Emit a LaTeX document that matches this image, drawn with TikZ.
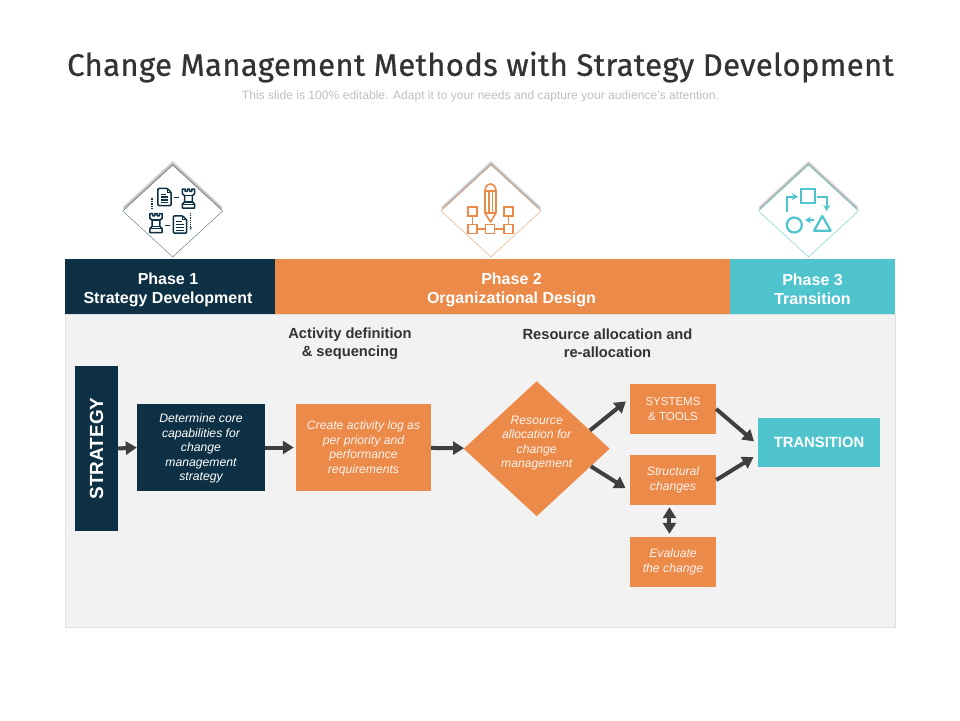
\documentclass[tikz,border=0pt]{standalone}
\usepackage{fontspec}
\setmainfont{Liberation Sans}
\newfontfamily\titlefont[LetterSpace=1.3,FakeBold=0.8]{Fira Sans}
\usepackage{tikz}
\usetikzlibrary{arrows.meta,shapes.geometric}
\definecolor{navy}{HTML}{0E3044}
\definecolor{orange1}{HTML}{EC8A49}
\definecolor{teal1}{HTML}{50C4CD}
\definecolor{panel}{HTML}{F2F2F2}
\definecolor{arrowgray}{HTML}{3F3F3F}
\definecolor{textgray}{HTML}{333333}
\newcommand{\fs}[2]{\fontsize{#1}{#2}\selectfont}
\newcommand{\headstrut}{\rule{0pt}{17.5pt}}
\tikzset{
  head/.style={minimum height=55pt,inner sep=0pt,text=white,align=center,font=\bfseries\fs{16}{19}},
  flowbox/.style={inner sep=0pt,text=white,align=center,font=\itshape\fs{12.2}{14.5}},
  orangebox/.style={flowbox,fill=orange1,text=white!90!orange1},
  sidehead/.style={align=center,text=textgray,font=\bfseries\fs{14.7}{18}},
  icondia/.style={diamond,aspect=1.09,minimum width=100pt,minimum height=92pt,inner sep=0pt,fill=white},
  iconshade/.style={diamond,aspect=1.09,minimum width=100pt,minimum height=92pt,inner sep=0pt,fill=black,opacity=.09},
  step arrow/.style={arrowgray,line width=4pt,-{Triangle[length=11pt,width=13pt]}},
  both arrow/.style={arrowgray,line width=4pt,{Triangle[length=11pt,width=13pt]}-{Triangle[length=11pt,width=13pt]}},
  rook/.pic={
    \draw[line width=1.5pt,line join=round] (-6.5,-10) -- (-6.5,-5) -- (-4,-3) -- (-4,3.5) -- (-6.5,6) -- (-6.5,10) -- (6.5,10)
      -- (6.5,6) -- (4,3.5) -- (4,-3) -- (6.5,-5) -- (6.5,-10) -- (3.5,-10) -- (3.5,-7.5) -- (1.3,-7.5) -- (1.3,-10)
      -- (-1.3,-10) -- (-1.3,-7.5) -- (-3.5,-7.5) -- (-3.5,-10) -- cycle;
    \draw[line width=1.4pt] (-4,-3) -- (4,-3) (-4,3.5) -- (4,3.5) (-6.5,6) -- (6.5,6);
  },
  docum/.pic={
    \draw[line width=1.5pt,line join=round,rounded corners=1pt] (-7,-9) -- (3,-9) -- (7,-5) -- (7,9) -- (-7,9) -- cycle;
    \draw[line width=1.2pt] (3,-9) -- (3,-5) -- (7,-5);
    \draw[line width=1.3pt] (-4,-3) -- (2,-3) (-4,0) -- (4,0) (-4,3) -- (4,3) (-4,6) -- (4,6);
  }
}
\begin{document}
\begin{tikzpicture}[x=1pt,y=-1pt]
\useasboundingbox (0,0) rectangle (960,720);
% title
\node (title) at (480.5,67) {\titlefont\fs{31}{36}\color{textgray}Change Management Methods with Strategy Development};
\node[text=black!25,font=\fs{12.1}{14}] (subtitle) at (480.5,96) {This slide is 100\% editable. Adapt it to your needs and capture your audience's attention.};
% panel and header
\draw[fill=panel,draw=black!12] (65,314) rectangle (895,627.5);
\node[head,fill=navy,minimum width=210pt] (phasea) at (170,286.5) {\hspace*{-4pt}\headstrut Phase 1\\\hspace*{-4pt}Strategy Development};
\node[head,fill=orange1,minimum width=455pt] (phaseb) at (502.5,286.5) {\hspace*{18pt}\headstrut Phase 2\\\hspace*{18pt}Organizational Design};
\node[head,fill=teal1,minimum width=165pt] (phasec) at (812.5,286.5) {\headstrut Phase 3\\Transition};
\node[sidehead] (actdef) at (350,344) {Activity definition\\\& sequencing};
\node[sidehead] (resalloc) at (607.5,343.5) {Resource allocation and\\re-allocation};
% icons
\foreach \ix in {172.7,491,808.5}
  \foreach \sh in {.5,1.5,...,4.5}
    \node[iconshade] (shade) at (\ix,211-\sh) {};
\node[icondia,draw=navy!70] (icona) at (172.7,211) {};
\node[icondia,draw=orange1!80] (iconb) at (491,211) {};
\node[icondia,draw=teal1!85] (iconc) at (808.5,211) {};
\begin{scope}[navy]
\pic[scale=.95] at (164.5,197) {docum};
\pic[scale=.95] at (188.5,198.5) {rook};
\pic[scale=.95] at (156,223) {rook};
\pic[scale=.95] at (180,224.5) {docum};
\draw[line width=1.5pt] (174,197.7) -- (179,197.7) (165,225.7) -- (170,225.7);
\draw[line width=1.2pt,densely dotted,-{Stealth[length=3pt]}] (152,209) -- (152,197);
\draw[line width=1.2pt,densely dotted,-{Stealth[length=3pt]}] (190.7,213) -- (190.7,230);
\end{scope}
\begin{scope}[orange1,line width=1.6pt]
\draw[line join=round] (485,191) arc (180:360:5.5 and 7) -- (496,213) -- (490.5,222) -- (485,213) -- cycle;
\draw (485,191) -- (496,191) (485,213) -- (496,213) (489,191) -- (489,213) (492.5,191) -- (492.5,213);
\foreach \px/\py in {472.3/211.3,508.3/211.3,472.3/229,490/229,508.3/229}
  \draw (\px-4.5,\py-4.5) rectangle (\px+4.5,\py+4.5);
\draw (472.3,215.8) -- (472.3,224.5) (508.3,215.8) -- (508.3,224.5) (476.8,229) -- (485.5,229) (494.5,229) -- (503.8,229);
\end{scope}
\begin{scope}[teal1,line width=2.2pt]
\draw (801,189.3) rectangle (815,202.7);
\draw[-{Stealth[length=6pt,width=7pt]}] (787.3,211.7) -- (787.3,196.7) -- (798,196.7);
\draw[-{Stealth[length=6pt,width=7pt]}] (817.3,196.7) -- (826.7,196.7) -- (826.7,211);
\draw (794.3,225) circle (7.5pt);
\draw[line join=round] (822.3,216) -- (814,230.7) -- (830.7,230.7) -- cycle;
\draw[-{Stealth[length=6pt,width=7pt]}] (814,220) -- (805,220);
\end{scope}
% flow
\node[fill=navy,text=white,rotate=90,minimum width=165pt,minimum height=43pt,inner sep=0pt,font=\bfseries\fs{19}{20}] (strategy) at (96.5,448.5) {STRATEGY};
\node[flowbox,fill=navy,minimum width=128pt,minimum height=87pt] (capab) at (201,447.5) {\rule{0pt}{11pt}Determine core\\capabilities for\\change\\management\\strategy};
\node[orangebox,minimum width=135pt,minimum height=87pt] (actlog) at (363.5,447.5) {\rule{0pt}{11pt}Create activity log as\\per priority and\\performance\\requirements};
\node[orangebox,diamond,aspect=1.08,minimum width=146pt,minimum height=135pt] (resdia) at (536.7,448.7) {Resource\\allocation for\\change\\management\rule[-14pt]{0pt}{0pt}};
\node[orangebox,minimum width=86pt,minimum height=50pt,font=\fs{11.5}{14.5}] (systems) at (673,409) {SYSTEMS\\\& TOOLS};
\node[orangebox,minimum width=86pt,minimum height=50pt] (struct) at (673,480) {Structural\\changes};
\node[orangebox,minimum width=86pt,minimum height=50pt] (evalu) at (673,562) {Evaluate\\the change};
\node[fill=teal1,text=white,minimum width=122pt,minimum height=49pt,inner sep=0pt,font=\bfseries\fs{14.8}{16}] (trans) at (819,442.5) {TRANSITION};
% arrows
\draw[step arrow] (strategy.south) -- (capab.west);
\draw[step arrow,shorten >=2pt] (capab) -- (actlog);
\draw[step arrow] (actlog) -- (resdia);
\draw[step arrow,shorten >=5pt] (resdia.19) -- (systems.166);
\draw[step arrow,shorten >=5pt] (resdia.-18) -- (struct.194);
\draw[step arrow,shorten >=5pt] (systems.east) -- (trans.182);
\draw[step arrow,shorten >=5pt] (struct.east) -- (trans.191);
\draw[both arrow,shorten >=3pt,shorten <=2pt] (struct.-98) -- (evalu.98);
\end{tikzpicture}
\end{document}
